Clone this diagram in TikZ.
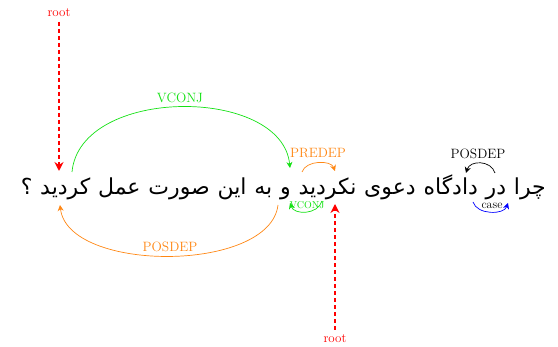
\documentclass[tikz,border=0pt]{standalone}
\usepackage{fontspec}
\newfontfamily\arabicfont[Script=Arabic]{DejaVu Sans}
\TeXXeTstate=1
\usetikzlibrary{arrows.meta}
\definecolor{dgreen}{RGB}{20,225,20}
\definecolor{dorange}{RGB}{255,135,20}
\tikzset{
  word/.style={anchor=base east,inner sep=0pt,font=\arabicfont\fontsize{22}{25}\selectfont},
  lab/.style={inner sep=0pt,font=\fontsize{13.5}{15}\selectfont},
  smalllab/.style={inner sep=0pt,font=\fontsize{10}{11}\selectfont},
  arc/.style={line width=0.7pt,-{Stealth[length=6pt,width=6pt]}},
  rootline/.style={red,line width=1.6pt,dash pattern=on 4pt off 3pt,-{Stealth[length=9pt,width=9pt,inset=3pt]}},
}
\newcommand\wsp{7.4pt}
\begin{document}
\begin{tikzpicture}[x=1pt,y=-1pt]
\useasboundingbox (0,0) rectangle (558,347);
% words, right to left
\node[word] (w1) at (546,195) {\beginR چرا\endR};
\node[word] (w2) at ([xshift=-\wsp]w1.base west) {\beginR در\endR};
\node[word] (w3) at ([xshift=-\wsp]w2.base west) {\beginR دادگاه\endR};
\node[word] (w4) at ([xshift=-\wsp]w3.base west) {\beginR دعوی\endR};
\node[word] (w5) at ([xshift=-\wsp]w4.base west) {\beginR نکردید\endR};
\node[word] (w6) at ([xshift=-\wsp]w5.base west) {\beginR و\endR};
\node[word] (w7) at ([xshift=-\wsp]w6.base west) {\beginR به\endR};
\node[word] (w8) at ([xshift=-\wsp]w7.base west) {\beginR این\endR};
\node[word] (w9) at ([xshift=-\wsp]w8.base west) {\beginR صورت\endR};
\node[word] (w10) at ([xshift=-\wsp]w9.base west) {\beginR عمل\endR};
\node[word] (w11) at ([xshift=-\wsp]w10.base west) {\beginR کردید\endR};
\node[word] (w12) at ([xshift=-\wsp]w11.base west) {\beginR ؟\endR};
% endpoints
\coordinate (r1s) at (59,22);   \coordinate (r1e) at (59,171);
\coordinate (r2s) at (335,330); \coordinate (r2e) at (335,204);
\coordinate (a1s) at (72,172);  \coordinate (a1e) at (290,168);
\coordinate (a2s) at (278,205); \coordinate (a2e) at (60,205);
\coordinate (a3s) at (302,172); \coordinate (a3e) at (335,171);
\coordinate (a4s) at (322,201); \coordinate (a4e) at (290,203);
\coordinate (a5s) at (495,173); \coordinate (a5e) at (466,173);
\coordinate (a6s) at (473,202); \coordinate (a6e) at (508,203);
% root edges
\node[lab,red,font=\fontsize{13}{14}\selectfont] (root1) at (59,13) {root};
\node[lab,red,font=\fontsize{13}{14}\selectfont] (root2) at (335,339) {root};
\draw[rootline] (r1s) -- (r1e);
\draw[rootline] (r2s) -- (r2e);
% arcs
\draw[arc,dgreen] (a1s) .. controls (80,86) and (282,86) .. (a1e);
\node[lab,dgreen] (l1) at (180,98) {VCONJ};
\draw[arc,dorange] (a2s) .. controls (270,273) and (68,273) .. (a2e);
\node[lab,dorange] (l2) at (170,247) {POSDEP};
\draw[arc,dorange] (a3s) .. controls (306,160) and (331,160) .. (a3e);
\node[lab,dorange] (l3) at (318,153) {PREDEP};
\draw[arc,dgreen] (a4s) .. controls (318,215) and (294,215) .. (a4e);
\node[smalllab,dgreen] (l4) at (307,205) {VCONJ};
\draw[arc,black] (a5s) .. controls (491,160) and (470,160) .. (a5e);
\node[lab,black] (l5) at (478,154) {POSDEP};
\draw[arc,blue] (a6s) .. controls (477,215) and (504,215) .. (a6e);
\node[lab,black,font=\fontsize{12}{14}\selectfont] (l6) at (492,206) {case};
\end{tikzpicture}
\end{document}
